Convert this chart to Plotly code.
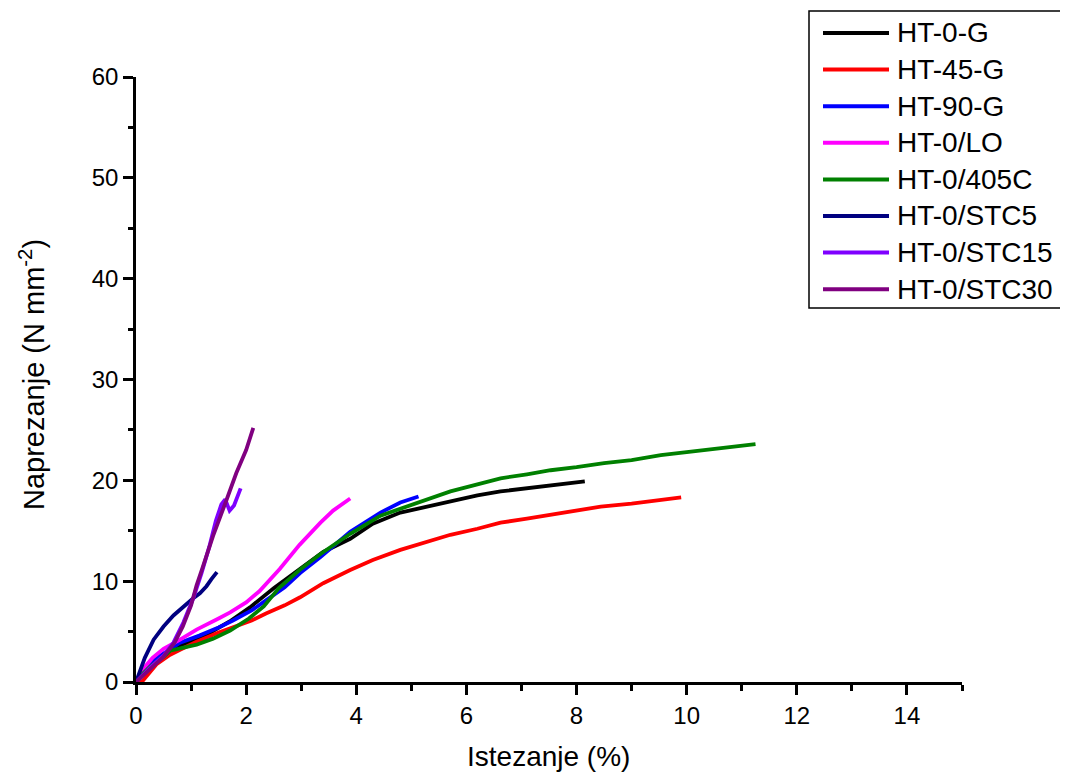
import plotly.graph_objects as go

# ---- data ----
names = ["HT-0-G", "HT-45-G", "HT-90-G", "HT-0/LO", "HT-0/405C",
         "HT-0/STC5", "HT-0/STC15", "HT-0/STC30"]
colors = ["#000000", "#FF0000", "#0000FF", "#FF00FF", "#008000",
          "#000080", "#7F00FF", "#800080"]

ht0g_x = [0, 0.1, 0.3, 0.6, 0.75, 1.0, 1.35, 1.7, 2.07, 2.5, 2.98, 3.4, 3.89, 4.3,
          4.8, 5.3, 5.71, 6.2, 6.62, 7.1, 7.53, 8.15]
ht0g_y = [0, 0.9, 2.0, 3.0, 3.5, 4.0, 4.9, 6.0, 7.4, 9.3, 11.2, 12.9, 14.2, 15.7,
          16.8, 17.4, 17.9, 18.5, 18.9, 19.2, 19.5, 19.9]

ht45g_x = [0, 0.12, 0.38, 0.62, 0.8, 1.1, 1.5, 1.76, 2.1, 2.36, 2.7, 2.98, 3.4, 3.89,
           4.3, 4.8, 5.3, 5.71, 6.2, 6.62, 7.1, 7.53, 8.0, 8.44, 9.0, 9.5, 9.9]
ht45g_y = [0, 0.1, 1.8, 2.7, 3.2, 4.0, 4.9, 5.4, 6.1, 6.8, 7.6, 8.4, 9.8, 11.1,
           12.1, 13.1, 13.9, 14.6, 15.2, 15.8, 16.2, 16.6, 17.0, 17.4, 17.7, 18.0, 18.3]

ht90g_x = [0, 0.1, 0.3, 0.6, 0.8, 1.15, 1.5, 1.76, 2.1, 2.36, 2.7, 2.98, 3.35, 3.89,
           4.44, 4.8, 5.13]
ht90g_y = [0, 1.0, 2.1, 3.2, 3.9, 4.6, 5.4, 6.1, 7.1, 8.1, 9.4, 10.8, 12.4, 14.9,
           16.8, 17.8, 18.4]

ht0lo_x = [0, 0.1, 0.3, 0.5, 0.8, 1.1, 1.5, 1.71, 2.0, 2.24, 2.61, 2.97, 3.35, 3.58, 3.89]
ht0lo_y = [0, 1.1, 2.4, 3.3, 4.2, 5.2, 6.3, 6.9, 7.9, 9.0, 11.2, 13.6, 15.8, 17.0, 18.2]

ht405c_x = [0, 0.1, 0.25, 0.5, 0.62, 0.9, 1.1, 1.4, 1.71, 2.05, 2.32, 2.59, 2.97, 3.35, 3.89,
            4.44, 5.16, 5.71, 6.2, 6.62, 7.1, 7.53, 8.0, 8.5, 9.0, 9.53, 10.0, 10.6, 11.25]
ht405c_y = [0, 0.7, 1.5, 2.5, 3.1, 3.4, 3.7, 4.3, 5.1, 6.3, 7.5, 9.3, 11.1, 12.7, 14.7,
            16.5, 17.9, 18.9, 19.6, 20.2, 20.6, 21.0, 21.3, 21.7, 22.0, 22.5, 22.8, 23.2, 23.6]

stc5_x = [0, 0.06, 0.16, 0.32, 0.5, 0.68, 0.86, 1.04, 1.16, 1.28, 1.37, 1.47]
stc5_y = [0, 1.0, 2.4, 4.2, 5.5, 6.6, 7.5, 8.3, 8.8, 9.5, 10.2, 10.9]

stc15_x = [0, 0.25, 0.5, 0.68, 0.86, 1.04, 1.19, 1.33, 1.45, 1.55, 1.62, 1.7, 1.78, 1.9]
stc15_y = [0, 1.4, 2.6, 3.9, 5.9, 8.3, 10.8, 13.4, 16.0, 17.6, 18.1, 17.0, 17.5, 19.2]

stc30_x = [0, 0.25, 0.5, 0.7, 0.85, 1.0, 1.1, 1.2, 1.4, 1.64, 1.82, 2.0, 2.13]
stc30_y = [0, 1.3, 2.5, 3.9, 5.5, 7.6, 9.6, 11.2, 14.5, 18.0, 20.7, 23.0, 25.2]

series_x = [ht0g_x, ht45g_x, ht90g_x, ht0lo_x, ht405c_x, stc5_x, stc15_x, stc30_x]
series_y = [ht0g_y, ht45g_y, ht90g_y, ht0lo_y, ht405c_y, stc5_y, stc15_y, stc30_y]

x_title = "Istezanje (%)"
y_title = "Naprezanje (N mm<sup>-2</sup>)"

# ---- figure ----
# the page body has an 8px margin, so the figure is drawn 8px smaller and
# every reference pixel position is shifted by that offset
OFF = 8
W, H = 1068 - OFF, 774 - OFF
L, R, T, B = 136 - OFF, 962 - OFF, 77 - OFF, 682 - OFF
FONT = "Liberation Sans, Arial, sans-serif"

fig = go.Figure()
for n, c, xs, ys in zip(names, colors, series_x, series_y):
    fig.add_trace(go.Scatter(x=xs, y=ys, mode="lines", name=n,
                             line=dict(color=c, width=3.8), showlegend=False))


def px2paper(px, py):
    """reference-image pixel -> paper coordinates"""
    px -= OFF
    py -= OFF
    return (px - L) / (R - L), (B - py) / (B - T)


shapes = []
annotations = []

# legend box
x0, y0 = px2paper(809, 308)
x1, y1 = px2paper(1066, 11)
shapes.append(dict(type="rect", xref="paper", yref="paper", x0=x0, y0=y0, x1=x1, y1=y1,
                   line=dict(color="black", width=1.5), fillcolor="white", layer="above"))
for i, (n, c) in enumerate(zip(names, colors)):
    cy = 33 + i * 36.6
    lx0, ly = px2paper(823, cy)
    lx1, _ = px2paper(889, cy)
    shapes.append(dict(type="line", xref="paper", yref="paper", x0=lx0, x1=lx1, y0=ly, y1=ly,
                       line=dict(color=c, width=4), layer="above"))
    tx, _ = px2paper(895, cy)
    annotations.append(dict(text=n, xref="paper", yref="paper", x=tx, y=ly,
                            xanchor="left", yanchor="middle", showarrow=False,
                            font=dict(family=FONT, size=28, color="black")))

# axis titles
ax, ay = px2paper(548, 756)
annotations.append(dict(text=x_title, xref="paper", yref="paper", x=ax, y=ay,
                        xanchor="center", yanchor="middle", showarrow=False,
                        font=dict(family=FONT, size=28, color="black")))
bx, by = px2paper(32, 374)
annotations.append(dict(text=y_title, xref="paper", yref="paper", x=bx, y=by,
                        xanchor="center", yanchor="middle", showarrow=False, textangle=-90,
                        font=dict(family=FONT, size=29, color="black")))

axis_common = dict(showgrid=False, zeroline=False, showline=True, linecolor="black",
                   linewidth=2.5, ticks="outside", ticklen=10, tickwidth=2.5, tickcolor="black",
                   tickfont=dict(family=FONT, size=24, color="black"))

fig.update_layout(
    width=W, height=H,
    margin=dict(l=L, r=W - R, t=T, b=H - B, pad=0),
    paper_bgcolor="white", plot_bgcolor="white",
    showlegend=False,
    xaxis=dict(range=[0, 15], dtick=2, tick0=0,
               minor=dict(ticks="outside", dtick=1, ticklen=6, tickwidth=2.5, tickcolor="black"),
               **axis_common),
    yaxis=dict(range=[0, 60], dtick=10, tick0=0,
               minor=dict(ticks="outside", dtick=5, ticklen=5, tickwidth=2.5, tickcolor="black"),
               **axis_common),
    shapes=shapes,
    annotations=annotations,
)

fig.write_html("out.html")
